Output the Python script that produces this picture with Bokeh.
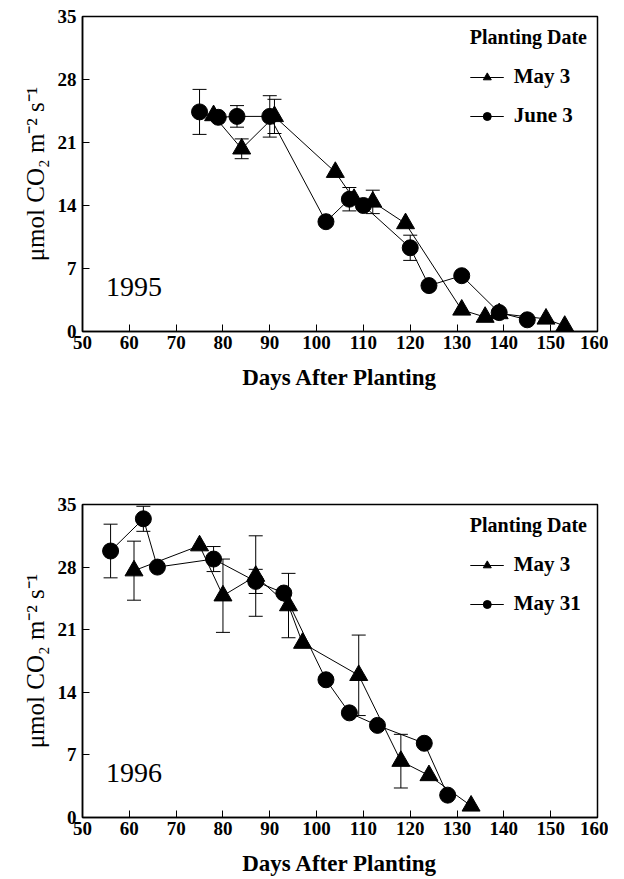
from bokeh.plotting import figure
from bokeh.layouts import column
from bokeh.models import (ColumnDataSource, Whisker, TeeHead, Legend, LegendItem,
                          Label, FixedTicker)
from bokeh.embed import file_html
from bokeh.resources import INLINE

# ---------------- data ----------------
# 1995
may3_95_days = [78, 84, 91, 104, 108, 112, 119, 131, 136, 139, 149, 153]
may3_95_rate = [24.0, 20.3, 23.9, 17.7, 14.7, 14.4, 12.0, 2.4, 1.6, 2.0, 1.4, 0.6]
may3_95_err = [0, 1.1, 1.9, 0, 0, 1.3, 0, 0, 0, 0, 0, 0]

jun3_95_days = [75, 79, 83, 90, 102, 107, 110, 120, 124, 131, 139, 145]
jun3_95_rate = [24.4, 23.8, 23.9, 23.9, 12.2, 14.7, 14.0, 9.3, 5.1, 6.2, 2.1, 1.3]
jun3_95_err = [2.5, 0, 1.2, 2.3, 0, 1.3, 0, 1.4, 0, 0, 0, 0]

# 1996
may3_96_days = [61, 75, 80, 87, 94, 97, 109, 118, 124, 133]
may3_96_rate = [27.6, 30.4, 24.8, 27.0, 23.7, 19.5, 15.9, 6.3, 4.7, 1.3]
may3_96_err = [3.3, 0, 4.1, 4.5, 3.6, 0, 4.5, 3.0, 0, 0]

may31_96_days = [56, 63, 66, 78, 87, 93, 102, 107, 113, 123, 128]
may31_96_rate = [29.8, 33.4, 28.0, 28.9, 26.4, 25.1, 15.4, 11.7, 10.3, 8.3, 2.5]
may31_96_err = [3.0, 1.4, 0, 1.4, 1.35, 0, 0, 0, 0, 0, 0]

x_ticks = [50, 60, 70, 80, 90, 100, 110, 120, 130, 140, 150, 160]
y_ticks = [0, 7, 14, 21, 28, 35]

FONT = "Liberation Serif"


def add_series(p, days, rate, err, marker, size):
    src = ColumnDataSource(dict(x=days, y=rate))
    ex = [d for d, e in zip(days, err) if e > 0]
    elo = [r - e for r, e in zip(rate, err) if e > 0]
    ehi = [r + e for r, e in zip(rate, err) if e > 0]
    esrc = ColumnDataSource(dict(x=ex, lo=elo, hi=ehi))
    w = Whisker(source=esrc, base="x", lower="lo", upper="hi",
                line_color="black", line_width=1,
                lower_head=TeeHead(size=14, line_color="black", line_width=1),
                upper_head=TeeHead(size=14, line_color="black", line_width=1),
                level="underlay")
    p.add_layout(w)
    ln = p.line("x", "y", source=src, line_color="black", line_width=1)
    mk = p.scatter("x", "y", source=src, marker=marker, size=size,
                   fill_color="black", line_color="black")
    return [ln, mk]


def make_panel(year, s1, s2, lab1, lab2, fw, fh, ml, mr, mt, mb):
    p = figure(frame_width=fw, frame_height=fh, x_range=(50, 160), y_range=(0, 35),
               output_backend="svg", toolbar_location=None,
               min_border_left=ml, min_border_right=mr, min_border_top=mt,
               min_border_bottom=mb)
    p.grid.visible = False
    p.outline_line_color = "black"
    p.outline_line_width = 1.5
    p.background_fill_color = "white"
    p.border_fill_color = "white"

    r1 = add_series(p, *s1, marker="triangle", size=18)
    r2 = add_series(p, *s2, marker="circle", size=16)

    p.xaxis.ticker = FixedTicker(ticks=x_ticks)
    p.yaxis.ticker = FixedTicker(ticks=y_ticks)
    for ax in (p.xaxis[0], p.yaxis[0]):
        ax.major_tick_in = 7
        ax.major_tick_out = 0
        ax.minor_tick_in = 0
        ax.minor_tick_out = 0
        ax.axis_line_width = 1.5
        ax.axis_line_color = "black"
        ax.major_tick_line_color = "black"
        ax.major_label_text_font = FONT
        ax.major_label_text_font_style = "bold"
        ax.major_label_text_font_size = "19px"
        ax.major_label_text_color = "black"
        ax.axis_label_text_font = FONT
        ax.axis_label_text_color = "black"
    p.xaxis.axis_label = "Days After Planting"
    p.xaxis.axis_label_text_font_style = "bold"
    p.xaxis.axis_label_text_font_size = "23px"
    p.xaxis.major_label_standoff = 4
    p.xaxis.axis_label_standoff = 13
    p.yaxis.axis_label = "\u03bcmol CO\u2082 m\u207b\u00b2 s\u207b\u00b9"
    p.yaxis.axis_label_text_font_style = "normal"
    p.yaxis.axis_label_text_font_size = "25px"
    p.yaxis.major_label_standoff = 6
    p.yaxis.axis_label_standoff = 6

    leg = Legend(items=[LegendItem(label=lab1, renderers=r1),
                        LegendItem(label=lab2, renderers=r2)],
                 title="Planting Date", location="top_right")
    leg.title_text_font = FONT
    leg.title_text_font_style = "bold"
    leg.title_text_font_size = "20px"
    leg.title_text_color = "black"
    leg.title_standoff = 15
    leg.label_text_font = FONT
    leg.label_text_font_style = "bold"
    leg.label_text_font_size = "21px"
    leg.label_text_color = "black"
    leg.border_line_color = None
    leg.background_fill_alpha = 0
    leg.glyph_width = 34
    leg.spacing = 14
    leg.margin = 10
    leg.padding = 6
    leg.label_standoff = 10
    p.add_layout(leg)

    p.add_layout(Label(x=55, y=4, text=year, text_font=FONT,
                       text_font_size="28px", text_color="black"))
    return p


p1 = make_panel("1995",
                (may3_95_days, may3_95_rate, may3_95_err),
                (jun3_95_days, jun3_95_rate, jun3_95_err),
                "May 3", "June 3", 515, 315, 82, 11, 16, 80)
p2 = make_panel("1996",
                (may3_96_days, may3_96_rate, may3_96_err),
                (may31_96_days, may31_96_rate, may31_96_err),
                "May 3", "May 31", 515, 313, 78, 15, 93, 54)

layout = column(p1, p2, spacing=0)
open("out.html", "w").write(file_html(layout, INLINE))
